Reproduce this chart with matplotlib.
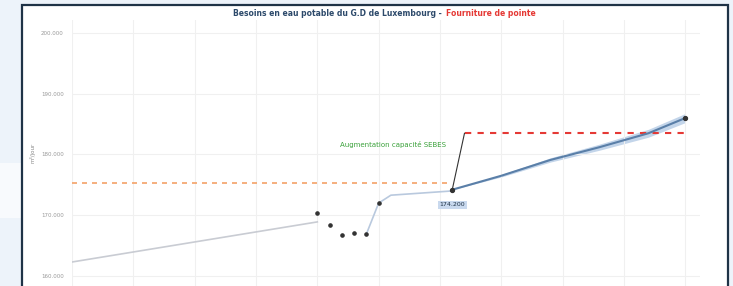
import matplotlib.pyplot as plt
from matplotlib.patches import Rectangle
from matplotlib.ticker import FuncFormatter, MultipleLocator

# data (m3/jour)
hist_years = [2000, 2020]
hist_vals = [162300, 168900]

obs_years = [2020, 2021, 2022, 2023, 2024, 2025]
obs_vals = [170400, 168400, 166700, 167100, 166900, 172000]

bridge_years = [2024, 2025, 2026, 2031]
bridge_vals = [166900, 172000, 173300, 174000]

proj_years = [2031, 2035, 2039, 2043, 2047, 2050]
proj_vals = [174200, 176500, 179100, 181200, 183500, 186000]
proj_spread = [0, 200, 350, 500, 650, 750]

supply_old_years = [2000, 2031]
supply_old = 175300
step_years = [2031, 2032]
step_vals = [174200, 183500]
supply_new_years = [2032, 2050]
supply_new = 183500

W, H = 733, 286
fig = plt.figure(figsize=(W / 100, H / 100), dpi=100)
fig.patch.set_facecolor('#edf3fa')
# lighter band of the slide background on the left
fig.patches.append(Rectangle((0, (H - 218) / H), 22 / W, 55 / H, transform=fig.transFigure,
                             facecolor='#f8fafd', edgecolor='none', zorder=-6))
fig.patches.append(Rectangle((22 / W, -0.05), (728 - 22) / W, 1.05 - 5 / H, transform=fig.transFigure,
                             facecolor='white', edgecolor='#1f3347', lw=1.6, zorder=-5))

ax = fig.add_axes([72 / W, 0, (700 - 72) / W, (286 - 20) / H])
ax.set_facecolor('none')
ax.set_xlim(2000, 2051.2)
ax.set_ylim(158350, 202140)
ax.yaxis.set_major_locator(MultipleLocator(10000))
ax.yaxis.set_major_formatter(FuncFormatter(lambda v, p: f'{v:,.0f}'.replace(',', '.')))
ax.xaxis.set_major_locator(MultipleLocator(5))
ax.set_xticklabels([])
ax.tick_params(length=0, labelsize=4, colors='#999999', pad=6)
for s in ax.spines.values():
    s.set_visible(False)
ax.grid(True, color='#f0f0f0', lw=0.8)
ax.set_ylabel('m³/jour', fontsize=4, color='#888888', labelpad=4)

ax.plot(supply_old_years, [supply_old] * 2, color='#f4a268', lw=1.2, dashes=(3, 3))
ax.plot(supply_new_years, [supply_new] * 2, color='#e53935', lw=1.5, dashes=(3, 3))
ax.plot(step_years, step_vals, color='#333333', lw=0.8)

ax.plot(hist_years, hist_vals, color='#c9ccd3', lw=1.2)
ax.plot(bridge_years, bridge_vals, color='#b9c9de', lw=1.2)

lo = [v - s for v, s in zip(proj_vals, proj_spread)]
hi = [v + s for v, s in zip(proj_vals, proj_spread)]
ax.fill_between(proj_years, lo, hi, color='#c3d5ea', lw=0)
ax.plot(proj_years, proj_vals, color='#5a7fa8', lw=1.5)

ax.plot(obs_years, obs_vals, 'o', color='#333333', ms=2.3, zorder=5)
ax.plot([proj_years[0], proj_years[-1]], [proj_vals[0], proj_vals[-1]], 'o', color='#333333', ms=2.8, zorder=5)

ax.text(proj_years[0], proj_vals[0] - 2500, f'{proj_vals[0]:,.0f}'.replace(',', '.'),
        ha='center', va='center', fontsize=4.5, color='#1f3347',
        bbox=dict(boxstyle='square,pad=0.3', facecolor='#c9d9ee', edgecolor='none'))
ax.text(2026.2, 181600, 'Augmentation capacité SEBES', ha='center', va='center',
        fontsize=5, color='#3aa13a')

fig.text(444 / W, 1 - 13 / H, 'Besoins en eau potable du G.D de Luxembourg - ', ha='right', va='center',
         fontsize=5.5, fontweight='bold', color='#2d4a6b')
fig.text(446 / W, 1 - 13 / H, 'Fourniture de pointe', ha='left', va='center',
         fontsize=5.5, fontweight='bold', color='#e53935')

fig.savefig('out.png', dpi=100, facecolor=fig.get_facecolor())
